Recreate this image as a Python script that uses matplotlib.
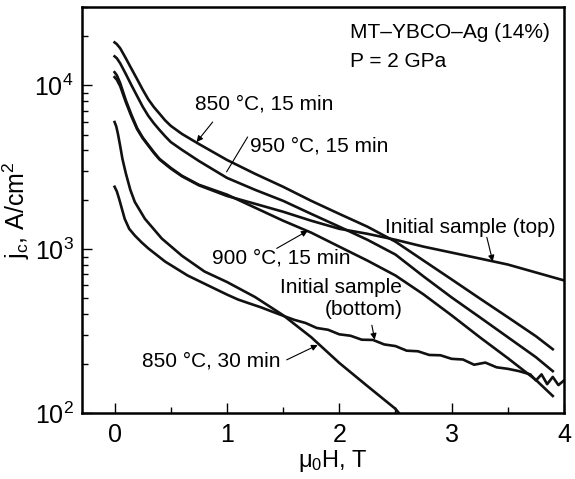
import matplotlib
matplotlib.use("Agg")
import matplotlib.pyplot as plt
from matplotlib.ticker import MultipleLocator, LogLocator

plt.rcParams['font.family'] = ['Liberation Sans', 'DejaVu Sans']
plt.rcParams['mathtext.fontset'] = 'custom'
plt.rcParams['mathtext.rm'] = 'Liberation Sans'
plt.rcParams['mathtext.it'] = 'Liberation Sans:italic'

# 850 C, 15 min
h_850_15 = [0, 0.02, 0.05, 0.1, 0.15, 0.2, 0.25, 0.3, 0.35, 0.4, 0.45, 0.5, 0.6,
            0.75, 1.0, 1.25, 1.5, 1.75, 2.0, 2.25, 2.5, 2.75, 3.0, 3.25, 3.5,
            3.75, 3.9]
jc_850_15 = [18250, 17800, 16800, 14600, 12600, 10900, 9400, 8200, 7350, 6700,
             6100, 5650, 5040, 4380, 3500, 2880, 2400, 1970, 1640, 1370, 1110,
             851, 653, 500, 384, 294, 245]

# 950 C, 15 min
h_950_15 = [0, 0.02, 0.05, 0.1, 0.15, 0.2, 0.25, 0.3, 0.35, 0.4, 0.45, 0.5, 0.6,
            0.75, 1.0, 1.25, 1.5, 1.75, 2.0, 2.25, 2.5, 2.75, 3.0, 3.25, 3.5,
            3.75, 3.9]
jc_950_15 = [15000, 14600, 13600, 11700, 10000, 8600, 7400, 6500, 5850, 5330,
             4880, 4500, 4030, 3450, 2720, 2300, 1970, 1640, 1370, 1140, 926,
             681, 507, 384, 290, 219, 180]

# 900 C, 15 min
h_900_15 = [0, 0.02, 0.05, 0.1, 0.15, 0.2, 0.25, 0.3, 0.35, 0.4, 0.5, 0.6, 0.75,
            1.0, 1.25, 1.5, 1.75, 2.0, 2.25, 2.5, 2.75, 3.0, 3.25, 3.5, 3.75, 3.9]
jc_900_15 = [12000, 11500, 10300, 8100, 6600, 5480, 4800, 4320, 3900, 3550, 3130,
             2800, 2470, 2150, 1790, 1490, 1260, 1035, 851, 690, 529, 394, 290,
             216, 159, 127]

# initial sample (top)
h_top = [0, 0.02, 0.05, 0.1, 0.15, 0.2, 0.25, 0.3, 0.35, 0.4, 0.5, 0.6, 0.75,
         1.0, 1.25, 1.5, 1.75, 2.0, 2.25, 2.5, 2.75, 3.0, 3.25, 3.5, 3.75, 4.0]
jc_top = [11200, 10800, 9860, 7880, 6450, 5400, 4750, 4280, 3860, 3520, 3100,
          2780, 2450, 2110, 1890, 1690, 1490, 1330, 1240, 1140, 1035, 952, 876,
          805, 720, 644]

# initial sample (bottom)
h_bottom = [0, 0.02, 0.04, 0.09, 0.13, 0.18, 0.24, 0.3, 0.45, 0.65, 0.85, 1.0,
            1.1, 1.2, 1.3, 1.4, 1.5, 1.6, 1.7, 1.8, 1.9, 2.0, 2.1, 2.2, 2.3,
            2.4, 2.5, 2.6, 2.7, 2.8, 2.9, 3.0, 3.1, 3.2, 3.3, 3.4, 3.5, 3.6,
            3.7, 3.75, 3.8, 3.85, 3.9, 3.95, 4.0]
jc_bottom = [2400, 2250, 2030, 1530, 1330, 1210, 1100, 1010, 839, 690, 592, 528,
             492, 466, 442, 416, 392, 370, 354, 330, 322, 302, 296, 280, 279,
             262, 256, 240, 238, 226, 225, 214, 212, 197, 203, 190, 186, 180,
             172, 158, 172, 150, 166, 148, 158]

# 850 C, 30 min
h_850_30 = [0, 0.015, 0.03, 0.05, 0.07, 0.1, 0.14, 0.18, 0.27, 0.42, 0.6, 0.8,
            1.0, 1.25, 1.5, 1.75, 2.0, 2.25, 2.5, 2.53]
jc_850_30 = [5960, 5600, 5040, 4250, 3550, 2900, 2300, 1940, 1530, 1160, 910,
             730, 630, 510, 395, 290, 202, 146, 106, 100]

curves = [(h_850_15, jc_850_15), (h_950_15, jc_950_15), (h_900_15, jc_900_15),
          (h_top, jc_top), (h_bottom, jc_bottom), (h_850_30, jc_850_30)]

fig = plt.figure(figsize=(5.75, 4.79), dpi=100)
ax = fig.add_axes([0.1426, 0.1378, 0.8383, 0.8476])

for h, jc in curves:
    ax.plot(h, jc, color='#111111', lw=1.9)

ax.set_yscale('log')
ax.set_xlim(-0.29, 4.0)
ax.set_ylim(100, 30000)

ax.xaxis.set_major_locator(MultipleLocator(1))
ax.xaxis.set_minor_locator(MultipleLocator(0.5))
ax.yaxis.set_major_locator(LogLocator(base=10))
ax.yaxis.set_minor_locator(LogLocator(base=10, subs=range(2, 10)))

ax.tick_params(which='both', direction='in', top=False, right=False, width=1.0,
               labelsize=18)
ax.tick_params(which='major', length=7)
ax.tick_params(which='minor', length=4)
ax.tick_params(axis='x', pad=7)
ax.tick_params(axis='y', pad=6)
for s in ax.spines.values():
    s.set_linewidth(1.8)

ax.set_xlabel(r'μ$_\mathrm{0}$H, T', fontsize=17, labelpad=0)
ax.set_ylabel(r'j$_\mathrm{c}$, A/cm$^\mathrm{2}$', fontsize=18, labelpad=2)
ax.xaxis.set_label_coords(0.52, -0.085)

fs = 15
ax.text(0.556, 0.938, 'MT–YBCO–Ag (14%)', transform=ax.transAxes, fontsize=fs,
        va='center')
ax.text(0.556, 0.865, 'P = 2 GPa', transform=ax.transAxes, fontsize=fs, va='center')

ax.text(0.712, 7670, '850 °C, 15 min', fontsize=fs, va='center')
ax.text(1.202, 4260, '950 °C, 15 min', fontsize=fs, va='center')
ax.text(0.864, 878, '900 °C, 15 min', fontsize=fs, va='center')
ax.text(2.404, 1356, 'Initial sample (top)', fontsize=fs, va='center')
ax.text(1.469, 586, 'Initial sample', fontsize=fs, va='center')
ax.text(1.87, 430, '(bottom)', fontsize=fs, va='center')
ax.text(0.24, 207, '850 °C, 30 min', fontsize=fs, va='center')

head = dict(arrowstyle='-|>', lw=0.8, color='black', mutation_scale=9,
            shrinkA=0, shrinkB=0)
plain = dict(arrowstyle='-', lw=0.8, color='black', shrinkA=0, shrinkB=0)
ax.annotate('', xy=(0.730, 4500), xytext=(0.873, 5960), arrowprops=head)
ax.annotate('', xy=(0.997, 2960), xytext=(1.184, 4830), arrowprops=plain)
ax.annotate('', xy=(1.719, 1294), xytext=(1.443, 1010), arrowprops=head)
ax.annotate('', xy=(3.366, 840), xytext=(3.313, 1180), arrowprops=head)
ax.annotate('', xy=(2.315, 280), xytext=(2.29, 343), arrowprops=head)
ax.annotate('', xy=(1.808, 260), xytext=(1.532, 211), arrowprops=head)

fig.savefig('out.png', dpi=100)
